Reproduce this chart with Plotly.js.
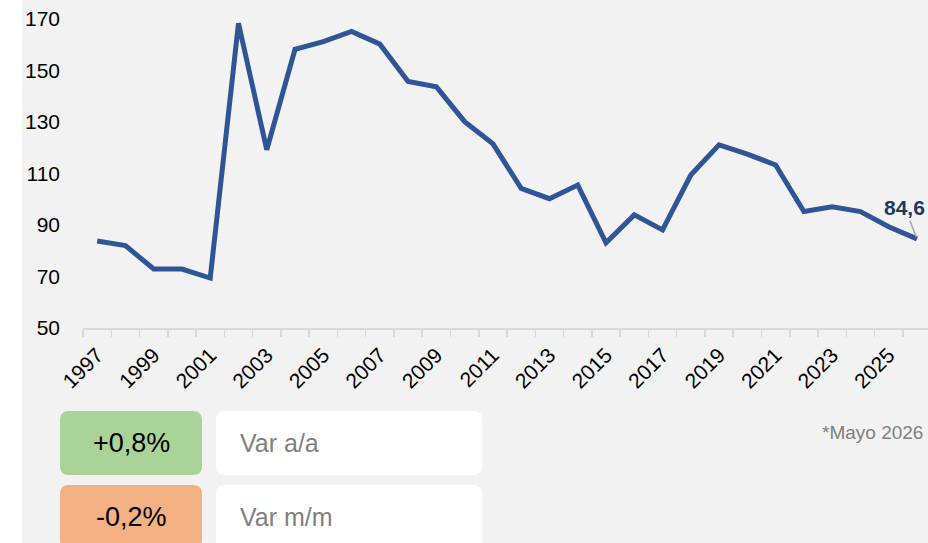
<!DOCTYPE html>
<html><head><meta charset="utf-8">
<script src="https://cdn.plot.ly/plotly-3.0.1.min.js"></script>
<style>html,body{margin:0;padding:0;background:#fff}#chart{width:928px;height:543px}</style>
</head><body><div id="chart"></div>
<script>
// ---- data ----
const years = ['1997','1998','1999','2000','2001','2002','2003','2004','2005','2006',
               '2007','2008','2009','2010','2011','2012','2013','2014','2015','2016',
               '2017','2018','2019','2020','2021','2022','2023','2024','2025','2026'];
const values = [83.8, 82.0, 72.9, 72.9, 69.4, 168.3, 119.2, 158.2, 161.2, 165.1,
                160.2, 145.7, 143.6, 130.1, 121.5, 104.2, 100.2, 105.5, 83.1, 93.9,
                88.1, 109.4, 121.1, 117.5, 113.3, 95.2, 97.1, 95.2, 89.3, 84.6];
const xTickLabels = years.map((y, i) => (i % 2 === 0 ? y : ''));
const yTickVals = [50, 70, 90, 110, 130, 150, 170];
const lastLabel = '84,6';
const varYoY = '+0,8%';
const varYoYLabel = 'Var a/a';
const varMoM = '-0,2%';
const varMoMLabel = 'Var m/m';
const footnote = '*Mayo 2026';

// ---- layout geometry ----
const FW = 928, FH = 543;
const ML = 83, MR = 0, MT = 6, MB = 215;
const PW = FW - ML - MR, PH = FH - MT - MB;
const PB = FH - MB;
const px2x = px => (px - ML) / PW;
const px2y = py => (PB - py) / PH;
const FONT = 'Liberation Sans, Arial, sans-serif';

function rr(x0, y0, x1, y1, r) {
  const P = (x, y) => px2x(x).toFixed(5) + ',' + px2y(y).toFixed(5);
  return 'M' + P(x0 + r, y0) + ' L' + P(x1 - r, y0) + ' Q' + P(x1, y0) + ' ' + P(x1, y0 + r) +
    ' L' + P(x1, y1 - r) + ' Q' + P(x1, y1) + ' ' + P(x1 - r, y1) +
    ' L' + P(x0 + r, y1) + ' Q' + P(x0, y1) + ' ' + P(x0, y1 - r) +
    ' L' + P(x0, y0 + r) + ' Q' + P(x0, y0) + ' ' + P(x0 + r, y0) + ' Z';
}
function boxShape(x0, y0, x1, y1, color) {
  return {type: 'path', xref: 'paper', yref: 'paper', path: rr(x0, y0, x1, y1, 9),
          fillcolor: color, line: {width: 0}, layer: 'above'};
}

const trace = {
  x: years, y: values, type: 'scatter', mode: 'lines',
  line: {color: '#2f5597', width: 5},
  hoverinfo: 'skip'
};

const lastIdx = years.length - 1;

const layout = {
  width: FW, height: FH,
  margin: {l: ML, r: MR, t: MT, b: MB, pad: 0},
  paper_bgcolor: '#f2f2f2', plot_bgcolor: '#f2f2f2',
  showlegend: false,
  font: {family: FONT, color: '#000'},
  xaxis: {
    type: 'category', range: [-0.5, (PW / 28.27) - 0.5],
    tickmode: 'array', tickvals: years, ticktext: xTickLabels,
    tickson: 'boundaries', ticks: 'outside', ticklen: 7, tickwidth: 1.5, tickcolor: '#d9d9d9',
    showline: true, linecolor: '#d9d9d9', linewidth: 1.5,
    showgrid: false, zeroline: false, tickangle: -45,
    ticklabelstandoff: 5,
    tickfont: {family: FONT, size: 21, color: '#000'}
  },
  yaxis: {
    range: [50, 175], tickmode: 'array', tickvals: yTickVals,
    showgrid: false, zeroline: false, showline: false, ticks: '',
    ticklabelstandoff: 22,
    tickfont: {family: FONT, size: 21, color: '#000'}
  },
  shapes: [
    {type: 'rect', xref: 'paper', yref: 'paper', x0: px2x(-10), x1: px2x(22),
     y0: px2y(560), y1: px2y(-10), fillcolor: '#ffffff', line: {width: 0}, layer: 'below'},
    boxShape(60, 411, 202, 475, '#aad397'),
    boxShape(216, 411, 482, 475, '#ffffff'),
    boxShape(60, 485, 202, 549, '#f4b183'),
    boxShape(216, 485, 482, 549, '#ffffff')
  ],
  annotations: [
    {x: lastIdx, y: values[lastIdx], xref: 'x', yref: 'y',
     text: '<b>' + lastLabel + '</b>', showarrow: true, arrowhead: 0, arrowwidth: 1.5,
     arrowcolor: '#a6a6a6', ax: -12, ay: -31, standoff: 2,
     font: {family: FONT, size: 21, color: '#203864'}},
    {x: px2x(131), y: px2y(443), xref: 'paper', yref: 'paper', text: varYoY, showarrow: false,
     xanchor: 'center', yanchor: 'middle', font: {family: FONT, size: 27, color: '#000'}},
    {x: px2x(238), y: px2y(443), xref: 'paper', yref: 'paper', text: varYoYLabel, showarrow: false,
     xanchor: 'left', yanchor: 'middle', font: {family: FONT, size: 25, color: '#808080'}},
    {x: px2x(131), y: px2y(517), xref: 'paper', yref: 'paper', text: varMoM, showarrow: false,
     xanchor: 'center', yanchor: 'middle', font: {family: FONT, size: 27, color: '#000'}},
    {x: px2x(238), y: px2y(517), xref: 'paper', yref: 'paper', text: varMoMLabel, showarrow: false,
     xanchor: 'left', yanchor: 'middle', font: {family: FONT, size: 25, color: '#808080'}},
    {x: px2x(925), y: px2y(432), xref: 'paper', yref: 'paper', text: footnote, showarrow: false,
     xanchor: 'right', yanchor: 'middle', font: {family: FONT, size: 19, color: '#7f7f7f'}}
  ]
};

Plotly.newPlot('chart', [trace], layout, {displayModeBar: false, staticPlot: true});
</script>
</body></html>
